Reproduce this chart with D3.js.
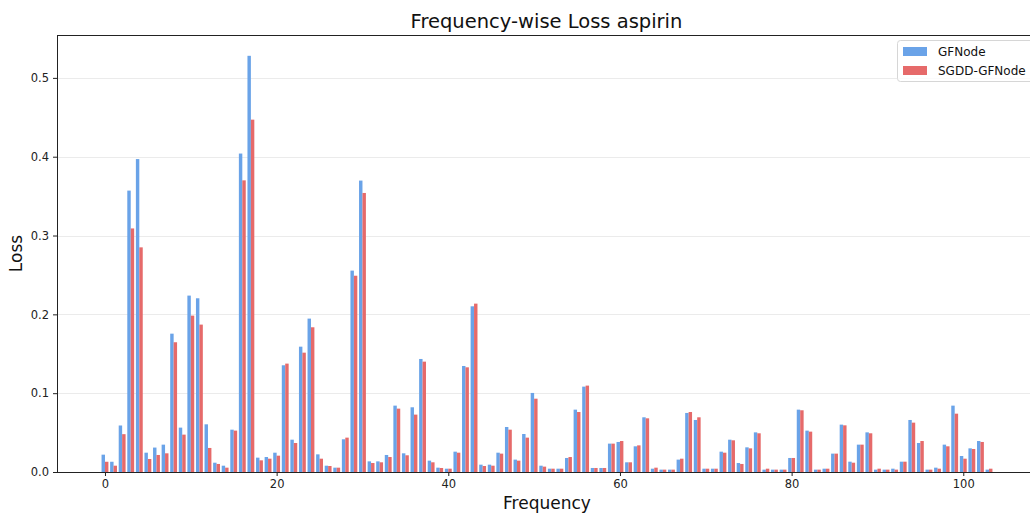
<!DOCTYPE html>
<html>
<head>
<meta charset="utf-8">
<script src="https://cdn.jsdelivr.net/npm/d3@7"></script>
<style>
	body { margin: 0; background: #fff; }
	svg { font-family: "DejaVu Sans", sans-serif; display: block; }
</style>
</head>
<body>
<div id="chart"></div>
<script>
// chart data, one value per frequency bin (0..103)
var seriesNames = ["GFNode", "SGDD-GFNode"],
	xTicks = [0, 20, 40, 60, 80, 100],
	yTicks = [0, 0.1, 0.2, 0.3, 0.4, 0.5];

var gfnode = [
	0.022, 0.013, 0.059, 0.357, 0.397, 0.0245, 0.031, 0.0347, 0.1755, 0.0563,
	0.2238, 0.2204, 0.0605, 0.0118, 0.008, 0.0537, 0.404, 0.528, 0.0182, 0.019,
	0.0245, 0.1354, 0.041, 0.159, 0.1946, 0.0224, 0.008, 0.0055, 0.0415, 0.2555,
	0.3697, 0.0135, 0.0135, 0.0216, 0.0842, 0.0237, 0.0821, 0.1434, 0.0144, 0.0055,
	0.0042, 0.0258, 0.1345, 0.2102, 0.0093, 0.0093, 0.0245, 0.0571, 0.0157, 0.0482,
	0.1003, 0.008, 0.0042, 0.0042, 0.0178, 0.0791, 0.1083, 0.0051, 0.0051, 0.036,
	0.0381, 0.0123, 0.0326, 0.0694, 0.0042, 0.003, 0.003, 0.0157, 0.0749, 0.066,
	0.0042, 0.0042, 0.0258, 0.041, 0.0114, 0.0313, 0.0503, 0.003, 0.003, 0.003,
	0.0178, 0.0791, 0.0525, 0.003, 0.0042, 0.0233, 0.0601, 0.0131, 0.0347, 0.0503,
	0.003, 0.003, 0.0042, 0.0131, 0.066, 0.0368, 0.003, 0.0055, 0.0347, 0.0842,
	0.0203, 0.03, 0.0393, 0.003
];

var sgdd = [
	0.013, 0.008, 0.048, 0.309, 0.285, 0.0165, 0.0216, 0.0237, 0.1646, 0.0474,
	0.1984, 0.187, 0.0305, 0.0102, 0.0055, 0.0525, 0.370, 0.447, 0.0148, 0.0169,
	0.0207, 0.1375, 0.0368, 0.1514, 0.1836, 0.0169, 0.0076, 0.0055, 0.0436, 0.249,
	0.354, 0.0114, 0.0123, 0.019, 0.0804, 0.0212, 0.0728, 0.14, 0.0123, 0.0051,
	0.0042, 0.0245, 0.1328, 0.2136, 0.0076, 0.008, 0.0233, 0.0537, 0.0144, 0.0436,
	0.093, 0.0068, 0.0042, 0.0042, 0.019, 0.0761, 0.1096, 0.0051, 0.0051, 0.036,
	0.0393, 0.0123, 0.0338, 0.0681, 0.0055, 0.003, 0.003, 0.0169, 0.0761, 0.0694,
	0.0042, 0.0042, 0.0245, 0.0402, 0.0102, 0.03, 0.0491, 0.0042, 0.003, 0.003,
	0.0178, 0.0783, 0.0512, 0.003, 0.0042, 0.0233, 0.0592, 0.0118, 0.0347, 0.0491,
	0.0042, 0.003, 0.003, 0.0131, 0.0626, 0.0393, 0.003, 0.0042, 0.0326, 0.074,
	0.0169, 0.0292, 0.0381, 0.0042
];

// viz params
var w = 1030,
	h = 516,
	padL = 57,
	padR = 1037,	// right spine falls just outside the picture
	padT = 35,
	padB = 472,
	barW = 0.4,
	colors = ["#6aa3e8", "#e66a6a"];

var svg = d3.select("#chart").append("svg")
	.attr("width", w)
	.attr("height", h);

var n = gfnode.length,
	yMax = d3.max(gfnode.concat(sgdd)) * 1.05,
	xPad = (n - 1 + 2 * barW) * 0.05;

var x = d3.scaleLinear()
	.domain([-barW - xPad, n - 1 + barW + xPad])
	.range([padL, padR]);

var y = d3.scaleLinear()
	.domain([0, yMax])
	.range([padB, padT]);

// grid lines
svg.append("g")
	.selectAll("line")
	.data(yTicks)
	.enter().append("line")
	.attr("x1", padL)
	.attr("x2", padR)
	.attr("y1", function(d) { return Math.round(y(d)) + 0.5; })
	.attr("y2", function(d) { return Math.round(y(d)) + 0.5; })
	.attr("stroke", "#ebebeb")
	.attr("stroke-width", 1);

// bars
var series = [gfnode, sgdd];
series.forEach(function(vals, s) {
	svg.append("g")
		.attr("fill", colors[s])
		.selectAll("rect")
		.data(vals)
		.enter().append("rect")
		.attr("x", function(d, i) { return x(i - barW + s * barW); })
		.attr("width", x(barW) - x(0))
		.attr("y", function(d) { return y(d); })
		.attr("height", function(d) { return y(0) - y(d); });
});

// axes
var xAxis = svg.append("g")
	.attr("transform", "translate(0," + padB + ")")
	.call(d3.axisBottom(x).tickValues(xTicks).tickSize(4).tickPadding(4).tickFormat(d3.format("d")));

var yAxis = svg.append("g")
	.attr("transform", "translate(" + padL + ",0)")
	.call(d3.axisLeft(y).tickValues(yTicks).tickSize(4).tickPadding(4).tickFormat(d3.format(".1f")));

[xAxis, yAxis].forEach(function(ax) {
	ax.select(".domain").remove();
	ax.selectAll("text").attr("font-size", 11.5).attr("fill", "#222").attr("font-family", "DejaVu Sans");
	ax.selectAll("line").attr("stroke", "#222");
});

// spines
svg.append("rect")
	.attr("x", padL + 0.5)
	.attr("y", padT + 0.5)
	.attr("width", padR - padL)
	.attr("height", padB - padT)
	.attr("fill", "none")
	.attr("stroke", "#222")
	.attr("stroke-width", 1);

// title and labels
svg.append("text")
	.attr("x", (padL + padR) / 2 - 0.5)
	.attr("y", 28)
	.attr("text-anchor", "middle")
	.attr("font-size", 19.5)
	.attr("fill", "#111")
	.text("Frequency-wise Loss aspirin");

svg.append("text")
	.attr("x", (padL + padR) / 2)
	.attr("y", 509)
	.attr("text-anchor", "middle")
	.attr("font-size", 17)
	.attr("fill", "#111")
	.text("Frequency");

svg.append("text")
	.attr("transform", "translate(22," + (padT + padB) / 2 + ") rotate(-90)")
	.attr("text-anchor", "middle")
	.attr("font-size", 17)
	.attr("fill", "#111")
	.text("Loss");

// legend
var legend = svg.append("g").attr("transform", "translate(897,40)");
legend.append("rect")
	.attr("x", 0.5)
	.attr("y", 0.5)
	.attr("width", 140)
	.attr("height", 41)
	.attr("rx", 3)
	.attr("fill", "#fff")
	.attr("fill-opacity", 0.8)
	.attr("stroke", "#d6d6d6");

seriesNames.forEach(function(name, i) {
	legend.append("rect")
		.attr("x", 6)
		.attr("y", 7 + i * 19)
		.attr("width", 24)
		.attr("height", 9)
		.attr("fill", colors[i]);
	legend.append("text")
		.attr("x", 41)
		.attr("y", 16 + i * 19)
		.attr("font-size", 12)
		.attr("fill", "#111")
		.text(name);
});
</script>
</body>
</html>
